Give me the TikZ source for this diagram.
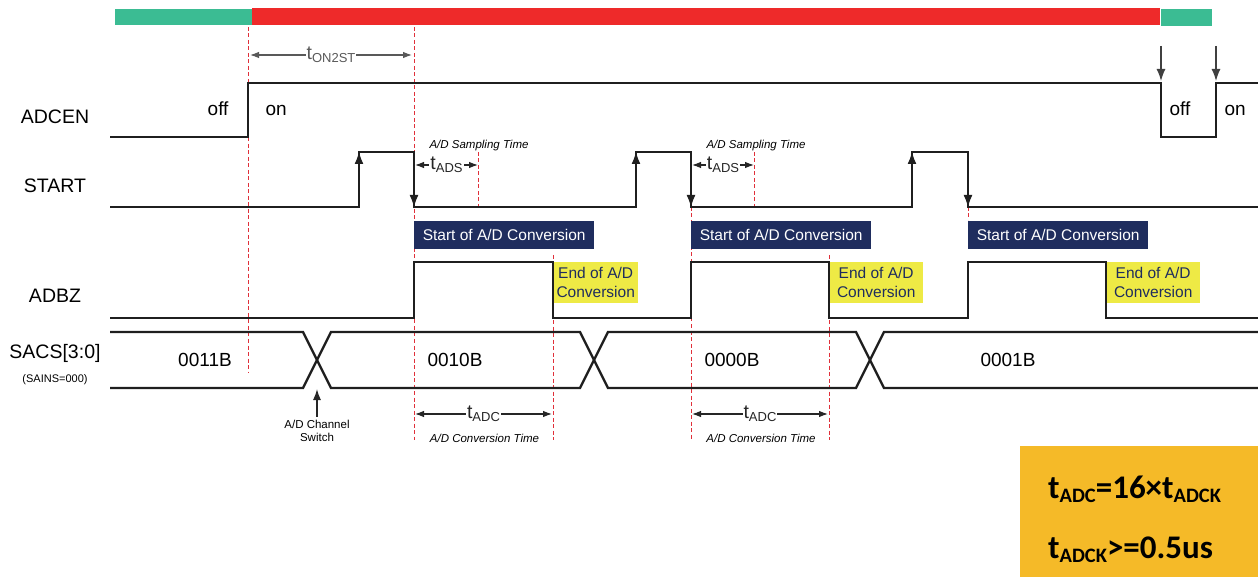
\documentclass[tikz,border=0pt]{standalone}
\usepackage{fontspec}
\setmainfont{Liberation Sans}
\newfontfamily\calfont{Carlito}
\usetikzlibrary{arrows.meta,positioning}
\definecolor{BarGreen}{HTML}{3BBC93}
\definecolor{BarRed}{HTML}{EE2A2A}
\definecolor{NavyBlue}{HTML}{1F2D5E}
\definecolor{MarkYellow}{HTML}{EEEA45}
\definecolor{OrangeBox}{HTML}{F5BA28}
\definecolor{GuideRed}{HTML}{E0303A}
\newcommand{\tsub}[1]{t\raisebox{-2.5pt}{\fontsize{13}{13}\selectfont #1}}
\newcommand{\tbig}[1]{t\raisebox{-4.5pt}{\fontsize{20.5}{20.5}\selectfont #1}}

\begin{document}
\begin{tikzpicture}[x=1pt,y=-1pt,
    wave/.style={line width=2.6pt,line join=miter,black!88},
    bus/.style={line width=2.3pt,line join=miter,black!88},
    guide/.style={GuideRed,line width=1pt,dash pattern=on 4pt off 2.5pt},
    edgetip/.style={-{Latex[length=13pt,width=9pt]},line width=2.6pt,black!88},
    droptip/.style={-{Latex[length=12pt,width=9pt]},line width=1.3pt,black!75},
    dimline/.style={{Latex[length=9pt,width=6.5pt]}-{Latex[length=9pt,width=6.5pt]},line width=1.1pt,black!85},
    dimlabel/.style={fill=white,inner sep=1pt,font=\fontsize{19.5}{19.5}\selectfont},
    signame/.style={font=\fontsize{19.5}{20}\selectfont},
    level/.style={font=\fontsize{19}{20}\selectfont,anchor=base},
    note/.style={font=\fontsize{11.5}{12}\selectfont\itshape},
    startbox/.style={fill=NavyBlue,text=white,anchor=north west,minimum width=180pt,
      minimum height=28pt,inner sep=0pt,font=\fontsize{15.5}{16}\selectfont},
    endbox/.style={fill=MarkYellow,text=NavyBlue,anchor=north west,minimum height=41pt,
      inner sep=0pt,align=center,font=\fontsize{15.5}{19.5}\selectfont}]
  \useasboundingbox (0,0) rectangle (1258,577);

  \fill[BarGreen] (115,9) rectangle (252,25);
  \fill[BarRed] (252,8) rectangle (1160,25);
  \fill[BarGreen] (1161,9) rectangle (1212,26);

  \draw[guide] (248,27) -- (248,372);
  \draw[guide] (414,27) -- (414,440);
  \draw[guide] (478,152) -- (478,207);
  \draw[guide] (754,152) -- (754,207);
  \draw[guide] (553,255) -- (553,440);
  \draw[guide] (691,207) -- (691,440);
  \draw[guide] (829,255) -- (829,440);
  \draw[guide] (968,207) -- (968,220);

  \node[signame] (adcen) at (55,117) {ADCEN};
  \node[signame] (start) at (55,186) {START};
  \node[signame] (adbz) at (55,296) {ADBZ};
  \node[signame] (sacs) at (55,353) {SACS[3:0]};
  \node[font=\fontsize{11}{12}\selectfont] (sains) at (55,380) {(SAINS=000)};

  \draw[wave] (110,137) -- (248,137) -- (248,83) -- (1161,83) -- (1161,137)
    -- (1216,137) -- (1216,83) -- (1258,83);
  \node[level,anchor=base east] (off1) at (232,116) {off};
  \node[level,anchor=base west] (on1) at (262,116) {on};
  \node[level,anchor=base west] (off2) at (1166,116) {off};
  \node[level,anchor=base west] (on2) at (1221,116) {on};
  \coordinate (drop1) at (1161,46);
  \coordinate (drop2) at (1216,46);
  \draw[droptip] (drop1) -- (1161,81);
  \draw[droptip] (drop2) -- (1216,81);

  \coordinate (on-a) at (250,55);
  \coordinate (on-b) at (412,55);
  \draw[dimline,black!65] (on-a) -- (on-b) node[dimlabel,midway] (ton) {\tsub{ON2ST}};

  \draw[wave] (110,207) -- (359,207) -- (359,152) -- (414,152) -- (414,207)
    -- (636,207) -- (636,152) -- (691,152) -- (691,207)
    -- (912,207) -- (912,152) -- (968,152) -- (968,207) -- (1258,207);
  \foreach \r/\f in {359/414,636/691,912/968} {
    \draw[edgetip] (\r,200) -- (\r,151);
    \draw[edgetip] (\f,160) -- (\f,208);
  }
  \foreach \f/\d/\n in {414/478/1,691/754/2} {
    \node[note,anchor=west] (samp\n) at (\f+12,146) {A/D Sampling Time};
    \coordinate (ads-a\n) at (\f+1,165);
    \coordinate (ads-b\n) at (\d,165);
    \draw[dimline] (ads-a\n) -- (ads-b\n) node[dimlabel,midway] (tads\n) {\tsub{ADS}};
  }

  \foreach \s/\n in {414/1,691/2,968/3}
    \node[startbox] (soc\n) at (\s,221) {Start of A/D Conversion};
  \node[endbox,minimum width=85pt] (eoc1) at (553,262) {End of A/D\\Conversion};
  \node[endbox,minimum width=94pt] (eoc2) at (829,262) {End of A/D\\Conversion};
  \node[endbox,minimum width=94pt] (eoc3) at (1106,262) {End of A/D\\Conversion};

  \draw[wave] (110,318) -- (414,318) -- (414,262) -- (553,262) -- (553,318)
    -- (691,318) -- (691,262) -- (829,262) -- (829,318)
    -- (968,318) -- (968,262) -- (1106,262) -- (1106,318) -- (1258,318);

  \draw[bus] (110,332) -- (303,332) -- (331,388) -- (580,388) -- (608,332)
    -- (856,332) -- (884,388) -- (1258,388);
  \draw[bus] (110,388) -- (303,388) -- (331,332) -- (580,332) -- (608,388)
    -- (856,388) -- (884,332) -- (1258,332);
  \node[level] (val1) at (205,366) {0011B};
  \node[level] (val2) at (455,366) {0010B};
  \node[level] (val3) at (732,366) {0000B};
  \node[level] (val4) at (1008,366) {0001B};

  \node[font=\fontsize{11.5}{13}\selectfont,align=center] (chsw) at (317,431) {A/D Channel\\Switch};
  \draw[-{Latex[length=11pt,width=8pt]},line width=1.3pt,black!85] (chsw.north) -- (317,389);

  \foreach \s/\e/\n in {414/553/1,691/829/2} {
    \coordinate (adc-a\n) at (\s+1,414);
    \coordinate (adc-b\n) at (\e-1,414);
    \draw[dimline] (adc-a\n) -- (adc-b\n) node[dimlabel,midway] (tadc\n) {\tsub{ADC}};
    \node[note] (conv\n) at (\s/2+\e/2+1,438) {A/D Conversion Time};
  }

  \node[fill=OrangeBox,anchor=north west,minimum width=238pt,minimum height=131pt,inner sep=0pt] (formula) at (1020,446) {};
  \node[anchor=base west,inner sep=0pt,font=\calfont\bfseries\fontsize{33}{33}\selectfont] (eq1) at (1048,498) {\tbig{ADC}=16×\tbig{ADCK}};
  \node[anchor=base west,inner sep=0pt,font=\calfont\bfseries\fontsize{33}{33}\selectfont] (eq2) at (1048,558) {\tbig{ADCK}>=0.5us};
\end{tikzpicture}
\end{document}
